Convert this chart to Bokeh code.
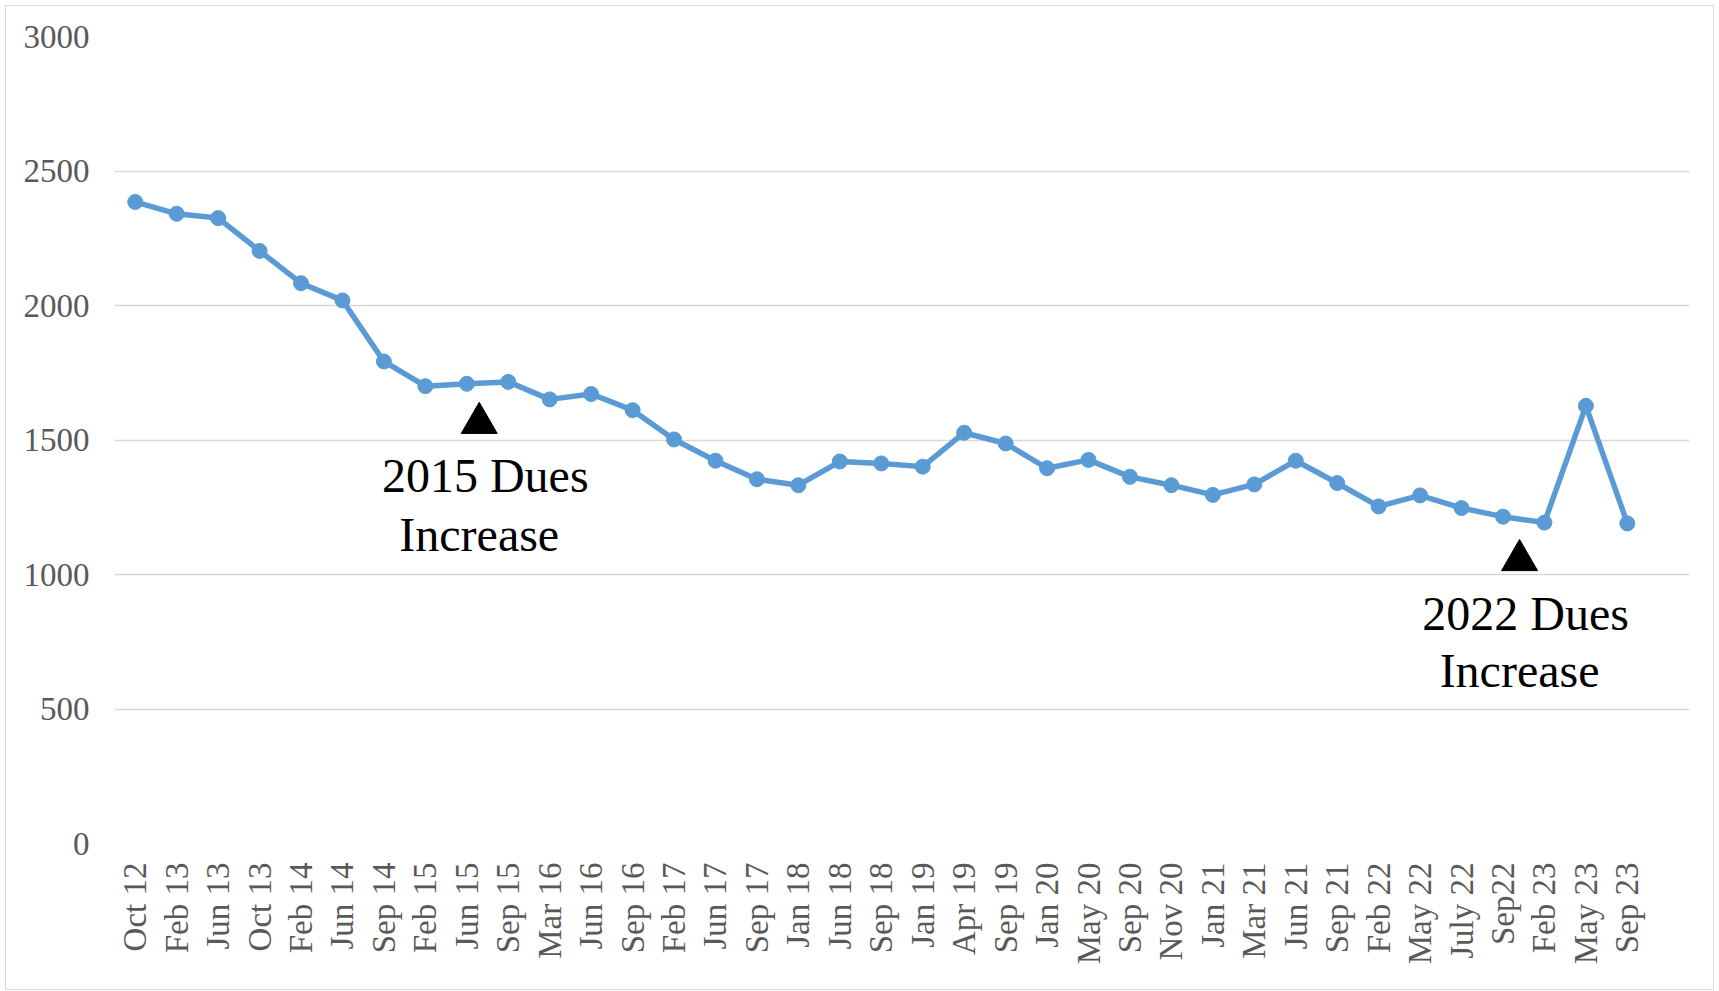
import math
from bokeh.plotting import figure
from bokeh.models import Range1d, FixedTicker, ColumnDataSource
from bokeh.embed import file_html
from bokeh.resources import INLINE
from bokeh.core.properties import value

categories = ["Oct 12", "Feb 13", "Jun 13", "Oct 13", "Feb 14", "Jun 14", "Sep 14", "Feb 15",
              "Jun 15", "Sep 15", "Mar 16", "Jun 16", "Sep 16", "Feb 17", "Jun 17", "Sep 17",
              "Jan 18", "Jun 18", "Sep 18", "Jan 19", "Apr 19", "Sep 19", "Jan 20", "May 20",
              "Sep 20", "Nov 20", "Jan 21", "Mar 21", "Jun 21", "Sep 21", "Feb 22", "May 22",
              "July 22", "Sep22", "Feb 23", "May 23", "Sep 23"]
members = [2385, 2341, 2325, 2203, 2083, 2019, 1792, 1700,
           1709, 1716, 1651, 1671, 1611, 1502, 1423, 1354,
           1332, 1420, 1413, 1401, 1527, 1487, 1395, 1426,
           1363, 1332, 1296, 1335, 1423, 1340, 1253, 1294,
           1247, 1215, 1193, 1627, 1190]
y_ticks = [0, 500, 1000, 1500, 2000, 2500, 3000]

# annotations
marker_x = [8.3, 33.4]
marker_y = [1563, 1053]
ann_text = ["2015 Dues", "Increase", "2022 Dues", "Increase"]
ann_x = [8.3, 8.3, 33.4, 33.4]
ann_y = [1368, 1149, 855, 643]
ann_dx = [6, 0, 6, 0]

FONT = "Liberation Serif"
idx = list(range(len(categories)))

p = figure(width=1709, height=985, output_backend="svg", toolbar_location=None,
           x_range=Range1d(-0.5, len(categories) + 0.5), y_range=Range1d(0, 3000),
           min_border_left=108, min_border_right=26, min_border_top=30, min_border_bottom=148,
           tools="")
p.styles = {"border": "1.5px solid #D9D9D9", "box-sizing": "border-box",
            "margin-left": "5px", "margin-top": "5px"}
p.outline_line_color = None
p.background_fill_color = "white"
p.border_fill_color = "white"

p.xgrid.visible = False
p.ygrid.grid_line_color = "#D9D9D9"
p.ygrid.grid_line_width = 1.5
p.ygrid.ticker = FixedTicker(ticks=y_ticks)

p.yaxis.ticker = FixedTicker(ticks=y_ticks)
p.xaxis.ticker = FixedTicker(ticks=idx)
p.xaxis.major_label_overrides = {i: c for i, c in enumerate(categories)}
p.xaxis.major_label_orientation = math.pi / 2
for ax in (p.xaxis, p.yaxis):
    ax.axis_line_color = None
    ax.major_tick_line_color = None
    ax.minor_tick_line_color = None
    ax.major_tick_out = 0
    ax.major_tick_in = 0
    ax.major_label_text_font = FONT
    ax.major_label_text_font_size = "33px"
    ax.major_label_text_color = "#595959"
p.yaxis.major_label_standoff = 25
p.xaxis.major_label_standoff = 19

src = ColumnDataSource(dict(x=idx, y=members))
p.line("x", "y", source=src, line_color="#5B9BD5", line_width=5.5)
p.scatter("x", "y", source=src, size=15, fill_color="#5B9BD5", line_color="#5B9BD5")

p.scatter(marker_x, marker_y, marker="triangle", size=36, fill_color="black", line_color="black")
asrc = ColumnDataSource(dict(x=ann_x, y=ann_y, t=ann_text, dx=ann_dx))
p.text("x", "y", text="t", x_offset="dx", source=asrc, text_font=value(FONT), text_font_size="48px",
       text_color="black", text_align="center", text_baseline="alphabetic")

open("out.html", "w").write(file_html(p, INLINE))
